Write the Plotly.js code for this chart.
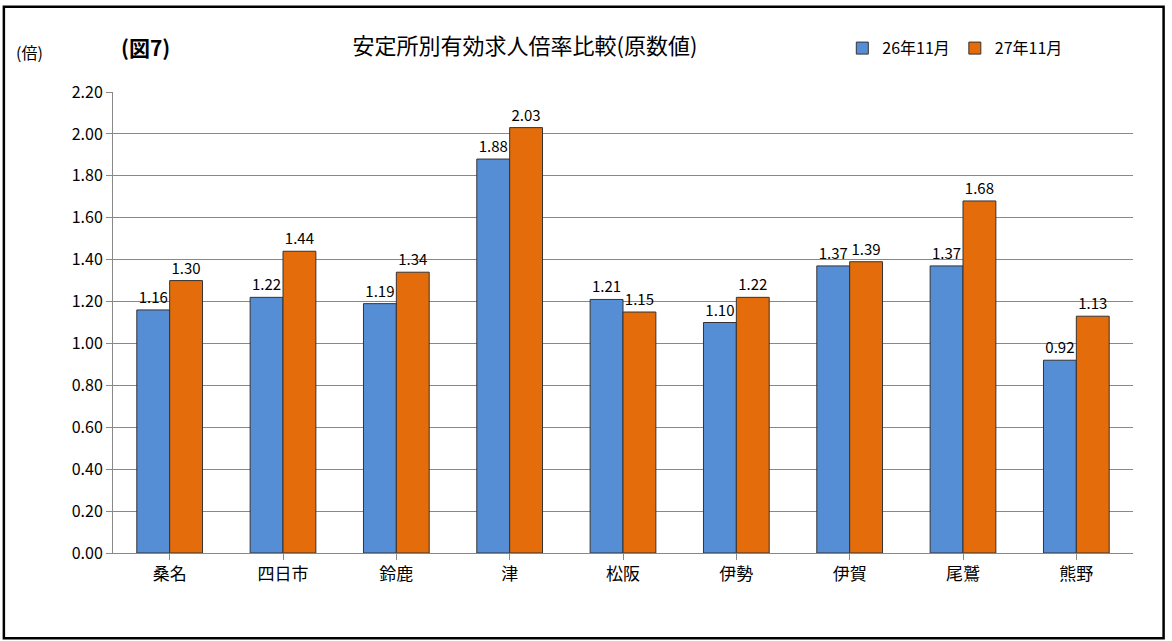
<!DOCTYPE html>
<html><head><meta charset="utf-8">
<script src="https://cdn.plot.ly/plotly-3.0.1.min.js"></script>
<style>body{margin:0;background:#fff}#chart{width:1172px;height:641px}</style>
</head><body><div id="chart"></div>
<script>
// 安定所別有効求人倍率比較（原数値）
const offices = ['桑名', '四日市', '鈴鹿', '津', '松阪', '伊勢', '伊賀', '尾鷲', '熊野'];
const ratio2014 = [1.16, 1.22, 1.19, 1.88, 1.21, 1.10, 1.37, 1.37, 0.92];
const ratio2015 = [1.30, 1.44, 1.34, 2.03, 1.15, 1.22, 1.39, 1.68, 1.13];
const tickVals = [0, 0.2, 0.4, 0.6, 0.8, 1.0, 1.2, 1.4, 1.6, 1.8, 2.0, 2.2];

const font = 'Noto Sans CJK JP, sans-serif';
function barTrace(name, vals, color){
  return {
    type: 'bar', name: name, x: offices, y: vals,
    marker: {color: color, line: {color: '#333', width: 1}},
    text: vals.map(function(v){ return v.toFixed(2); }),
    textposition: 'outside', cliponaxis: false,
    textfont: {size: 15, color: '#000', family: font}
  };
}

const data = [
  barTrace('26年11月', ratio2014, '#558ED5'),
  barTrace('27年11月', ratio2015, '#E46C0A')
];

const layout = {
  width: 1172, height: 641,
  margin: {l: 113, r: 39, t: 92, b: 88},
  paper_bgcolor: '#fff', plot_bgcolor: '#fff',
  font: {family: font, color: '#000'},
  barmode: 'group', bargap: 0.42, bargroupgap: 0,
  title: {text: '安定所別有効求人倍率比較(原数値)', x: 0.448, xanchor: 'center', y: 0.928, yanchor: 'middle',
          font: {size: 22, family: font, color: '#000'}},
  showlegend: true,
  legend: {orientation: 'h', x: 0.715, y: 1.095, xanchor: 'left', yanchor: 'middle',
           font: {size: 16, family: font}, traceorder: 'normal', itemwidth: 30},
  xaxis: {showline: true, linecolor: '#888', ticks: 'outside', ticklen: 6, tickcolor: '#888',
          tickfont: {size: 17, family: font}},
  yaxis: {range: [0, 2.2], tickvals: tickVals, tickformat: '.2f', showgrid: true, gridcolor: '#888',
          showline: true, linecolor: '#888', ticks: 'outside', ticklen: 6, tickcolor: '#888',
          tickfont: {size: 16, family: font}, zeroline: false},
  annotations: [
    {text: '(倍)', xref: 'paper', yref: 'paper', x: -0.082, y: 1.087, xanchor: 'center', yanchor: 'middle',
     showarrow: false, font: {size: 16, family: font}},
    {text: '<b>(図7)</b>', xref: 'paper', yref: 'paper', x: 0.032, y: 1.097, xanchor: 'center', yanchor: 'middle',
     showarrow: false, font: {size: 21, family: font}}
  ],
  shapes: [
    {type: 'path', xref: 'paper', yref: 'paper',
     path: 'M -0.107,1.185 L 1.03,1.185 L 1.03,-0.185 L -0.107,-0.185 Z',
     line: {color: '#000', width: 2.5}, fillcolor: 'rgba(0,0,0,0)'}
  ]
};

Plotly.newPlot('chart', data, layout, {displayModeBar: false, staticPlot: true});
</script></body></html>
